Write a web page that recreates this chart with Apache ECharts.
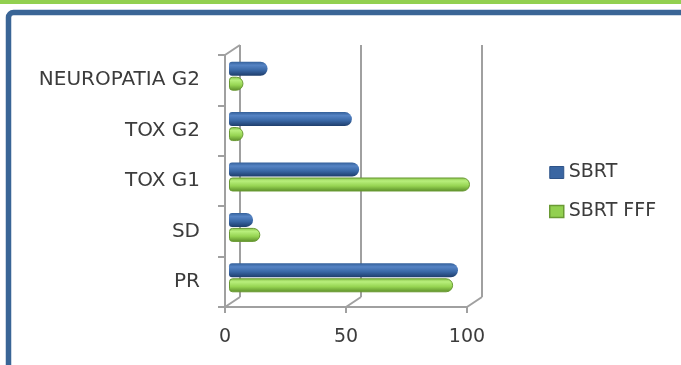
<!DOCTYPE html>
<html>
<head>
<meta charset="utf-8">
<script src="https://cdn.jsdelivr.net/npm/echarts@6/dist/echarts.min.js"></script>
<style>
  html, body { margin: 0; padding: 0; background: #fff; }
  #chart { width: 681px; height: 365px; }
</style>
</head>
<body>
<div id="chart"></div>
<script>
var categories = ['PR', 'SD', 'TOX G1', 'TOX G2', 'NEUROPATIA G2'];
var sbrt = [95, 10, 54, 51, 16];
var sbrtFff = [93, 13, 100, 6, 6];
var xTicks = [0, 50, 100];

var myChart = echarts.init(document.getElementById('chart'));

// front / back planes of the fake 3d box (px)
var front = { left: 225, top: 55, right: 467, bottom: 307 };
var depthX = 15, depthY = 10;
var axisGrey = '#a0a0a0';
var textColor = '#3c3c3c';
var fontFam = '"DejaVu Sans", Verdana, sans-serif';

function cyl(stops) {
    return new echarts.graphic.LinearGradient(0, 0, 0, 1, stops.map(function (c) {
        return { offset: c[0], color: c[1] };
    }));
}

// diagonal edges of the box
var edges = [];
edges.push([front.left, front.top, front.left + depthX, front.top - depthY]);
xTicks.forEach(function (t) {
    var x = front.left + (front.right - front.left) * t / 100;
    edges.push([x, front.bottom, x + depthX, front.bottom - depthY]);
});
var graphics = [
    { type: 'rect', shape: { x: 0, y: 0, width: 681, height: 4 }, style: { fill: '#92d050' } },
    { type: 'rect', shape: { x: 8.5, y: 12.5, width: 720, height: 420, r: 5 },
      style: { fill: 'none', stroke: '#3a6596', lineWidth: 5.5 } }
];
edges.forEach(function (e) {
    graphics.push({
        type: 'line', z: 5,
        shape: { x1: e[0], y1: e[1], x2: e[2], y2: e[3] },
        style: { stroke: axisGrey, lineWidth: 2 }
    });
});

var option = {
    animation: false,
    graphic: graphics,
    legend: {
        orient: 'vertical',
        left: 549,
        top: 163,
        padding: 0,
        itemWidth: 14,
        itemHeight: 12,
        itemGap: 20,
        icon: 'rect',
        textStyle: { color: textColor, fontSize: 19, fontFamily: fontFam },
        data: [
            { name: 'SBRT', itemStyle: { color: '#3a66a2', borderColor: '#2e5388', borderWidth: 1 } },
            { name: 'SBRT FFF', itemStyle: { color: '#92d050', borderColor: '#6a9a34', borderWidth: 1.5 } }
        ]
    },
    grid: [
        // back wall
        { left: front.left + depthX, top: front.top - depthY, width: front.right - front.left,
          height: front.bottom - front.top },
        // bars at mid depth
        { left: 229, top: 51, width: 241, height: 252 },
        // front axes
        { left: front.left, top: front.top, width: front.right - front.left,
          height: front.bottom - front.top }
    ],
    xAxis: [{
        gridIndex: 0, type: 'value', min: 0, max: 100, interval: 50,
        axisLine: { show: false }, axisTick: { show: false }, axisLabel: { show: false },
        splitLine: { show: true, lineStyle: { color: axisGrey, width: 2 } }
    }, {
        gridIndex: 1, type: 'value', min: 0, max: 100, show: false
    }, {
        gridIndex: 2, type: 'value', min: 0, max: 100, interval: 50,
        axisLine: { show: true, lineStyle: { color: axisGrey, width: 2 } },
        axisTick: { show: true, length: 6, lineStyle: { color: axisGrey, width: 2 } },
        axisLabel: { color: textColor, fontSize: 19, fontFamily: fontFam, margin: 21 },
        splitLine: { show: false }
    }],
    yAxis: [{
        gridIndex: 0, type: 'category', data: categories,
        axisLine: { show: false }, axisTick: { show: false }, axisLabel: { show: false },
        splitLine: { show: false }
    }, {
        gridIndex: 1, type: 'category', data: categories, show: false
    }, {
        gridIndex: 2, type: 'category', data: categories,
        axisLine: { show: true, lineStyle: { color: axisGrey, width: 2 } },
        axisTick: { show: true, length: 7, lineStyle: { color: axisGrey, width: 2 } },
        axisLabel: { color: textColor, fontSize: 20, fontFamily: fontFam, margin: 25,
                     padding: [3, 0, 0, 0] },
        splitLine: { show: false }
    }],
    series: [{
        name: 'SBRT',
        type: 'bar',
        xAxisIndex: 1, yAxisIndex: 1,
        data: sbrt,
        barWidth: 14,
        barGap: '7%',
        itemStyle: {
            color: cyl([[0, '#34609a'], [0.25, '#5684c4'], [0.6, '#3a68a6'], [1, '#1e3d6b']]),
            borderRadius: [3, 7, 7, 3]
        }
    }, {
        name: 'SBRT FFF',
        type: 'bar',
        xAxisIndex: 1, yAxisIndex: 1,
        data: sbrtFff,
        barWidth: 14,
        itemStyle: {
            color: cyl([[0, '#86c048'], [0.25, '#b8ef7c'], [0.6, '#96d452'], [1, '#5a8c28']]),
            borderColor: '#6a9a34',
            borderWidth: 1,
            borderRadius: [3, 7, 7, 3]
        }
    }]
};
myChart.setOption(option);
</script>
</body>
</html>
